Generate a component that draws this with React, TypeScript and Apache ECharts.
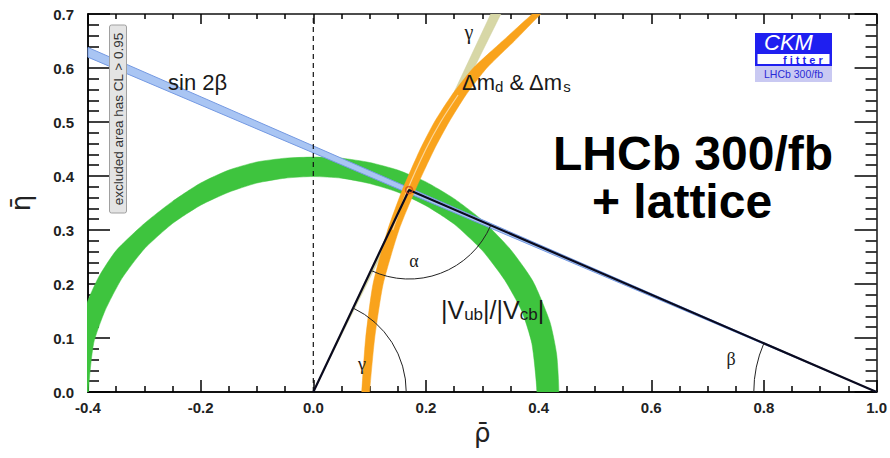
import React, { useEffect, useRef } from 'react';
import * as echarts from 'echarts';

// axis ranges and tick labels
const rhoMin = -0.4;
const rhoMax = 1.0;
const rhoStep = 0.2;
const etaMin = 0.0;
const etaMax = 0.7;
const etaStep = 0.1;
const rhoTickLabels = ['-0.4', '-0.2', '0.0', '0.2', '0.4', '0.6', '0.8', '1.0'];
const etaTickLabels = ['0.0', '0.1', '0.2', '0.3', '0.4', '0.5', '0.6', '0.7'];

// unitarity triangle
const origin: [number, number] = [0.0, 0.0];
const apex: [number, number] = [0.17, 0.374];
const rhoOne: [number, number] = [1.0, 0.0];
const triangle: [number, number][] = [origin, apex, rhoOne];
const zeroLine: [number, number][] = [[0.0, 0.0], [0.0, 0.7]];

// |Vub|/|Vcb| band edges
const vubOuter: [number, number][] = [
  [-0.430, -0.060], [-0.434, 0.020], [-0.425, 0.095], [-0.400, 0.170], [-0.380, 0.215],
  [-0.350, 0.262], [-0.300, 0.312], [-0.250, 0.353], [-0.200, 0.387], [-0.150, 0.411],
  [-0.100, 0.426], [-0.050, 0.433], [0.000, 0.435], [0.050, 0.433], [0.100, 0.425],
  [0.150, 0.411], [0.200, 0.389], [0.250, 0.358], [0.300, 0.318], [0.350, 0.264],
  [0.390, 0.205], [0.420, 0.130], [0.432, 0.070], [0.436, 0.000], [0.432, -0.060],
];
const vubInner: [number, number][] = [
  [-0.393, -0.060], [-0.399, 0.000], [-0.390, 0.090], [-0.370, 0.150], [-0.340, 0.210],
  [-0.300, 0.265], [-0.250, 0.312], [-0.200, 0.346], [-0.150, 0.370], [-0.100, 0.387],
  [-0.050, 0.396], [0.000, 0.399], [0.050, 0.396], [0.100, 0.386], [0.150, 0.370],
  [0.200, 0.345], [0.250, 0.311], [0.300, 0.262], [0.340, 0.207], [0.370, 0.150],
  [0.388, 0.090], [0.397, 0.000], [0.393, -0.060],
];

// Δm_d & Δm_s band edges
const dmLeft: [number, number][] = [
  [0.084, -0.050], [0.086, 0.000], [0.093, 0.100], [0.106, 0.200], [0.132, 0.300],
  [0.158, 0.374], [0.190, 0.450], [0.215, 0.500], [0.246, 0.550], [0.284, 0.600],
  [0.336, 0.650], [0.389, 0.700], [0.415, 0.720],
];
const dmRight: [number, number][] = [
  [0.098, -0.050], [0.100, 0.000], [0.109, 0.100], [0.124, 0.200], [0.152, 0.300],
  [0.181, 0.374], [0.215, 0.450], [0.241, 0.500], [0.271, 0.550], [0.308, 0.600],
  [0.357, 0.650], [0.404, 0.700], [0.428, 0.720],
];
const dmStripe: [number, number][] = [
  [0.141, 0.300], [0.167, 0.374], [0.200, 0.450], [0.226, 0.500], [0.257, 0.550],
];

// γ wedge and sin2β wedge
const gammaWedge: [number, number][] = [[0.0, 0.0], [0.315, 0.7], [0.333, 0.7]];
const sin2bWedge: [number, number][] = [[1.0, 0.0], [-0.4, 0.638], [-0.4, 0.620]];

// angle arc radii (in ρ units)
const gammaArcR = 0.165;
const alphaArcR = 0.158;
const betaArcR = 0.218;

const SANS = '"Liberation Sans", Arial, Helvetica, sans-serif';
const SERIF = '"Liberation Serif", "DejaVu Serif", serif';
const TICK_COLOR = '#000000';

function polygonSeries(points: [number, number][], style: any, z: number, smooth = 0) {
  return {
    type: 'custom',
    coordinateSystem: 'cartesian2d',
    xAxisIndex: 0,
    yAxisIndex: 0,
    clip: true,
    silent: true,
    z,
    data: [[0, 0]],
    renderItem: (_p: any, api: any) => ({
      type: 'polygon',
      shape: { points: points.map((p) => api.coord(p)), smooth },
      style,
    }),
  };
}

function polylineSeries(points: [number, number][], style: any, z: number) {
  return {
    type: 'custom',
    coordinateSystem: 'cartesian2d',
    xAxisIndex: 0,
    yAxisIndex: 0,
    clip: true,
    silent: true,
    z,
    data: [[0, 0]],
    renderItem: (_p: any, api: any) => ({
      type: 'polyline',
      shape: { points: points.map((p) => api.coord(p)), smooth: 0.3 },
      style,
    }),
  };
}

function txt(x: number, y: number, text: string, style: any, z = 100) {
  return {
    type: 'text',
    x,
    y,
    silent: true,
    z,
    style: {
      text,
      fill: '#1a1a1a',
      align: 'left',
      textAlign: 'left',
      verticalAlign: 'middle',
      textVerticalAlign: 'middle',
      ...style,
    },
  };
}

export default function App() {
  const ref = useRef<HTMLDivElement>(null);

  useEffect(() => {
    document.body.style.margin = '0';
    if (!ref.current) return;
    const chart = echarts.init(ref.current, null, { renderer: 'svg' });

    const axisLabel = {
      fontFamily: SANS,
      fontWeight: 'bold',
      fontSize: 15,
      color: '#222',
    };
    const tickStyle = { color: TICK_COLOR, width: 1.5 };
    const arcStyle = { stroke: '#222', lineWidth: 1, fill: 'none' };

    const option: any = {
      animation: false,
      backgroundColor: '#ffffff',
      grid: { left: 86, right: 13, top: 14, bottom: 66, containLabel: false },
      xAxis: [
        {
          type: 'value',
          min: rhoMin,
          max: rhoMax,
          interval: rhoStep,
          position: 'bottom',
          name: 'ρ\u0304',
          nameLocation: 'middle',
          nameGap: 26,
          nameTextStyle: { fontFamily: '"DejaVu Sans", sans-serif', fontSize: 26, color: '#222' },
          axisLine: { show: true, onZero: false, lineStyle: { color: '#111', width: 2 } },
          axisTick: { show: true, inside: true, length: 12, lineStyle: tickStyle },
          minorTick: { show: true, splitNumber: 4, length: 6, lineStyle: tickStyle },
          axisLabel: {
            ...axisLabel,
            margin: 8,
            formatter: (v: number) => rhoTickLabels[Math.round((v - rhoMin) / rhoStep)] ?? '',
          },
          splitLine: { show: false },
        },
        {
          type: 'value',
          min: rhoMin,
          max: rhoMax,
          interval: rhoStep,
          position: 'top',
          axisLine: { show: true, onZero: false, lineStyle: { color: '#111', width: 1.5 } },
          axisTick: { show: true, inside: true, length: 10, lineStyle: tickStyle },
          minorTick: { show: true, splitNumber: 4, length: 5, lineStyle: tickStyle },
          axisLabel: { show: false },
          splitLine: { show: false },
        },
      ],
      yAxis: [
        {
          type: 'value',
          min: etaMin,
          max: etaMax,
          interval: etaStep,
          position: 'left',
          name: 'η\u0304',
          nameLocation: 'middle',
          nameRotate: 90,
          nameGap: 54,
          nameTextStyle: { fontFamily: '"DejaVu Sans", sans-serif', fontSize: 26, color: '#222' },
          axisLine: { show: true, onZero: false, lineStyle: { color: '#111', width: 2 } },
          axisTick: { show: true, inside: true, length: 22, lineStyle: tickStyle },
          minorTick: { show: true, splitNumber: 5, length: 11, lineStyle: tickStyle },
          axisLabel: {
            ...axisLabel,
            margin: 14,
            formatter: (v: number) => etaTickLabels[Math.round((v - etaMin) / etaStep)] ?? '',
          },
          splitLine: { show: false },
        },
        {
          type: 'value',
          min: etaMin,
          max: etaMax,
          interval: etaStep,
          position: 'right',
          axisLine: { show: true, onZero: false, lineStyle: { color: '#111', width: 1.5 } },
          axisTick: { show: true, inside: true, length: 22, lineStyle: tickStyle },
          minorTick: { show: true, splitNumber: 5, length: 11, lineStyle: tickStyle },
          axisLabel: { show: false },
          splitLine: { show: false },
        },
      ],
      series: [
        polygonSeries([...vubOuter, ...[...vubInner].reverse()], { fill: '#3ec43e', stroke: '#3ec43e', lineWidth: 0.5 }, 1, 0.2),
        polygonSeries(sin2bWedge, { fill: '#a9c5f3', stroke: '#7499e2', lineWidth: 1 }, 2),
        polygonSeries(gammaWedge, { fill: '#d7d7a6', stroke: '#cfcf9c', lineWidth: 0.5 }, 3),
        polygonSeries([...dmLeft, ...[...dmRight].reverse()], { fill: '#f9a31c', stroke: '#f9a31c', lineWidth: 0.5 }, 4, 0.2),
        polylineSeries(dmStripe, { stroke: '#fcd596', lineWidth: 1.2, fill: 'none' }, 5),
        {
          type: 'line',
          z: 6,
          silent: true,
          data: zeroLine,
          symbol: 'none',
          lineStyle: { color: '#111', width: 1.2, type: [5, 4] },
        },
        {
          type: 'line',
          z: 7,
          silent: true,
          data: triangle,
          symbol: 'none',
          lineStyle: { color: '#0a0a1e', width: 2.2 },
        },
        {
          type: 'custom',
          coordinateSystem: 'cartesian2d',
          silent: true,
          z: 8,
          data: [[0, 0]],
          renderItem: (_p: any, api: any) => {
            const O = api.coord(origin);
            const A = api.coord(apex);
            const B = api.coord(rhoOne);
            const rg = api.size([gammaArcR, 0])[0];
            const ra = api.size([alphaArcR, 0])[0];
            const rb = api.size([betaArcR, 0])[0];
            const angOA = Math.atan2(A[1] - O[1], A[0] - O[0]);
            const angAO = Math.atan2(O[1] - A[1], O[0] - A[0]);
            const angAB = Math.atan2(B[1] - A[1], B[0] - A[0]);
            const angBA = Math.atan2(A[1] - B[1], A[0] - B[0]) + Math.PI * 2;
            return {
              type: 'group',
              children: [
                { type: 'arc', shape: { cx: O[0], cy: O[1], r: rg, startAngle: angOA, endAngle: 0, clockwise: true }, style: arcStyle },
                { type: 'arc', shape: { cx: A[0], cy: A[1], r: ra, startAngle: angAB, endAngle: angAO, clockwise: true }, style: arcStyle },
                { type: 'arc', shape: { cx: B[0], cy: B[1], r: rb, startAngle: Math.PI, endAngle: angBA, clockwise: true }, style: arcStyle },
              ],
            };
          },
        },
        {
          type: 'scatter',
          z: 9,
          silent: true,
          data: [apex],
          symbol: 'circle',
          symbolSize: 7,
          itemStyle: { color: 'rgba(0,0,0,0)', borderColor: '#d2481c', borderWidth: 1.5 },
        },
      ],
      graphic: [
        // excluded area box
        { type: 'rect', x: 109.5, y: 25, shape: { width: 17, height: 188, r: 2 }, style: { fill: '#e4e4e4', stroke: '#a0a0a0', lineWidth: 1 }, z: 100, silent: true },
        {
          type: 'text', x: 118.5, y: 119, rotation: Math.PI / 2, z: 101, silent: true,
          style: { text: 'excluded area has CL > 0.95', fill: '#333', fontFamily: SANS, fontSize: 13.5, align: 'center', textAlign: 'center', verticalAlign: 'middle', textVerticalAlign: 'middle' },
        },
        txt(168, 82, 'sin 2β', { fontFamily: SANS, fontSize: 22 }),
        txt(469, 32, 'γ', { fontFamily: SERIF, fontSize: 20, align: 'center', textAlign: 'center' }),
        txt(462, 82, '{m|Δm}{s|d}{m| & Δm}{s|s}', {
          fontFamily: SANS, fontSize: 22,
          rich: {
            m: { fontFamily: SANS, fontSize: 22, lineHeight: 24, verticalAlign: 'middle', fill: '#1a1a1a' },
            s: { fontFamily: SANS, fontSize: 15, lineHeight: 5, verticalAlign: 'bottom', fill: '#1a1a1a' },
          },
        }),
        txt(414, 261, 'α', { fontFamily: SERIF, fontSize: 18, align: 'center', textAlign: 'center' }),
        txt(362, 364, 'γ', { fontFamily: SERIF, fontSize: 18, align: 'center', textAlign: 'center' }),
        txt(731, 359, 'β', { fontFamily: SERIF, fontSize: 18, align: 'center', textAlign: 'center' }),
        txt(441, 310, '{m||V}{s|ub}{m||/|V}{s|cb}{m||}', {
          fontFamily: SANS, fontSize: 25,
          rich: {
            m: { fontFamily: SANS, fontSize: 25, lineHeight: 26, verticalAlign: 'middle', fill: '#1a1a1a' },
            s: { fontFamily: SANS, fontSize: 17, lineHeight: 12, verticalAlign: 'bottom', fill: '#1a1a1a' },
          },
        }),
        txt(553, 153, 'LHCb 300/fb', { fontFamily: SANS, fontSize: 48, fontWeight: 'bold', fill: '#000' }),
        txt(592, 201, '+ lattice', { fontFamily: SANS, fontSize: 48, fontWeight: 'bold', fill: '#000' }),
        // CKMfitter logo
        { type: 'rect', x: 755, y: 33, shape: { width: 77, height: 33 }, style: { fill: '#1f1ff0' }, z: 100, silent: true },
        { type: 'rect', x: 757.5, y: 54, shape: { width: 72, height: 10 }, style: { fill: '#ffffff' }, z: 101, silent: true },
        txt(764, 42.5, 'CKM', { fontFamily: SANS, fontSize: 22, fontStyle: 'italic', fill: '#ffffff', lineHeight: 20 }, 102),
        txt(783, 59.5, 'f i t t e r', { fontFamily: SANS, fontSize: 11, fontWeight: 'bold', fill: '#1f1ff0', lineHeight: 10 }, 102),
        { type: 'rect', x: 755, y: 66, shape: { width: 77, height: 16 }, style: { fill: '#c9c9f2' }, z: 100, silent: true },
        txt(793.5, 74, 'LHCb 300/fb', { fontFamily: SANS, fontSize: 10.5, fill: '#2b2bd6', align: 'center', textAlign: 'center' }, 102),
      ],
    };

    chart.setOption(option);
    return () => chart.dispose();
  }, []);

  return <div ref={ref} style={{ width: 890, height: 458 }} />;
}
